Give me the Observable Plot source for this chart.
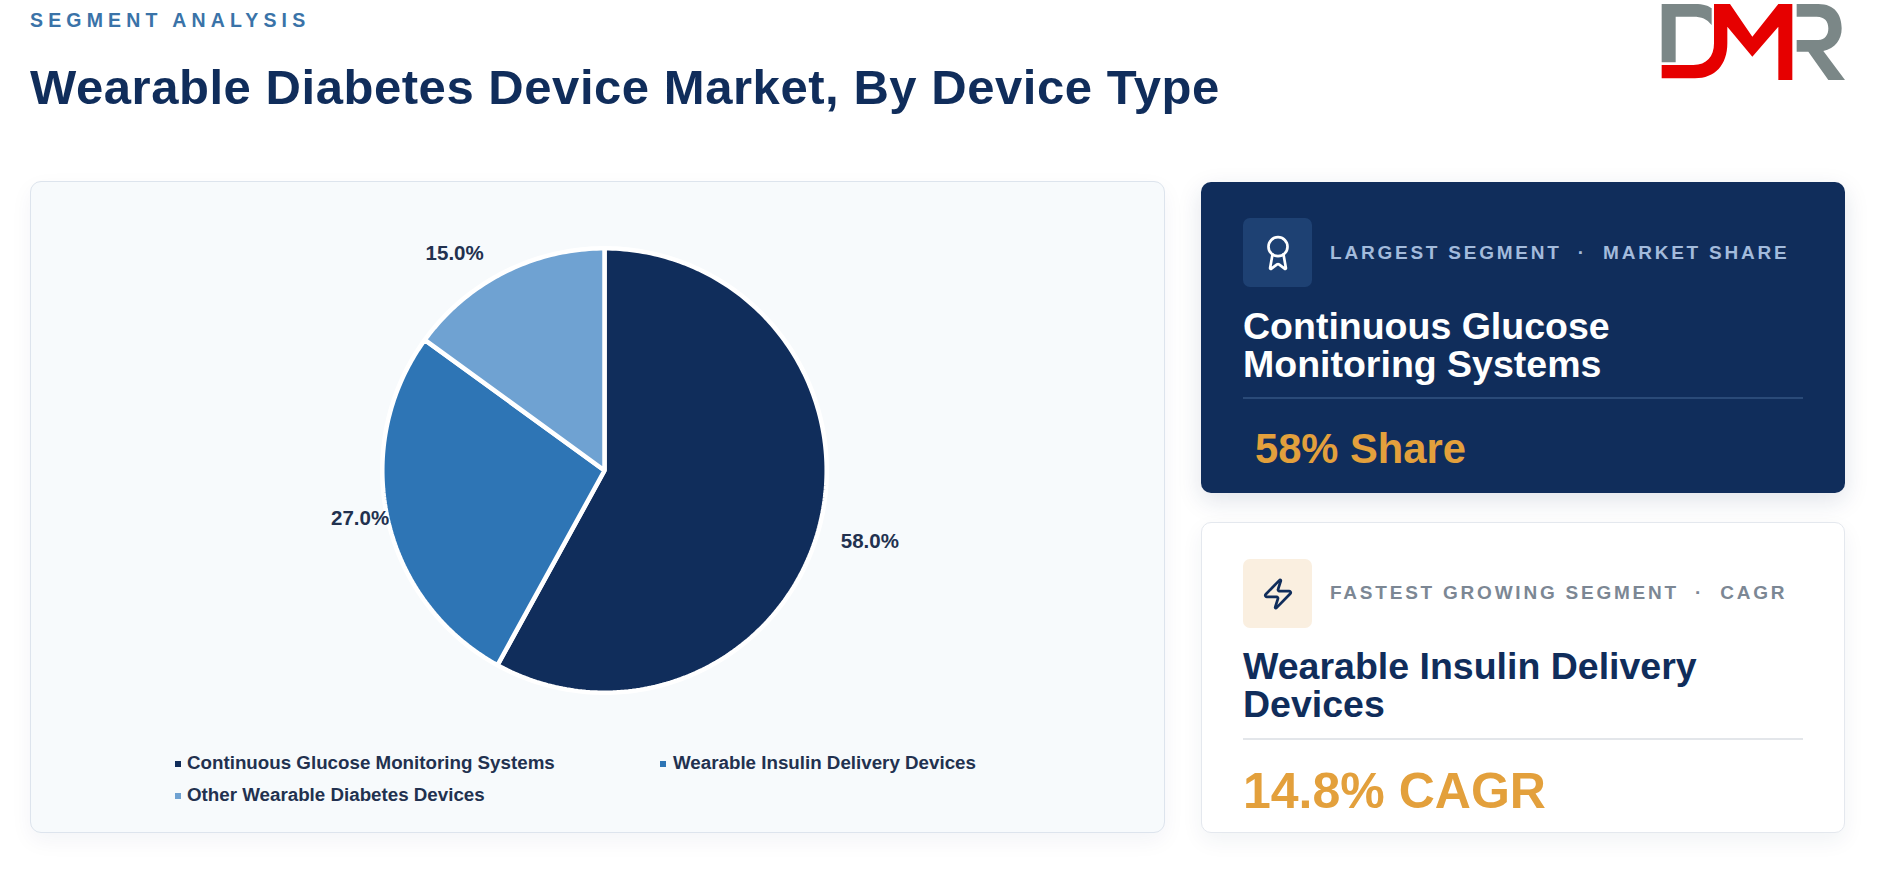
<!DOCTYPE html>
<html lang="en">
<head>
<meta charset="utf-8">
<title>Wearable Diabetes Device Market, By Device Type</title>
<script src="https://cdn.jsdelivr.net/npm/d3@7"></script>
<script src="https://cdn.jsdelivr.net/npm/@observablehq/plot@0.6"></script>
<style>
  html, body { margin: 0; padding: 0; background: #fff; overflow: hidden; }
  body { width: 1883px; height: 870px; position: relative; font-family: "Liberation Sans", Arial, sans-serif; }
  .abs { position: absolute; white-space: nowrap; }
  .box { position: absolute; box-sizing: border-box; }
  #panel { left: 30px; top: 181px; width: 1135px; height: 652px; background: #f7fafc; border: 1.5px solid #dde4ed; border-radius: 11px; box-shadow: 0 8px 22px rgba(20,45,90,.05); }
  #card1 { left: 1201px; top: 182px; width: 644px; height: 311px; background: #102d5b; border-radius: 10px; box-shadow: 0 8px 24px rgba(20,45,90,.13); }
  #card2 { left: 1201px; top: 522px; width: 644px; height: 311px; background: #fff; border: 1.5px solid #e4e8ee; border-radius: 10px; box-shadow: 0 8px 22px rgba(20,45,90,.06); }
  .icon { position: absolute; left: 1243px; width: 69px; height: 69px; border-radius: 7px; display: flex; align-items: center; justify-content: center; }
  .lab { left: 1330px; font-size: 19px; font-weight: 700; letter-spacing: 2.78px; line-height: 24px; white-space: pre; }
  .name { left: 1243px; font-size: 37.5px; font-weight: 700; line-height: 38px; }
  .rule { position: absolute; left: 1243px; width: 560px; height: 1.5px; }
  .sw { position: absolute; width: 6px; height: 6px; }
  .leg { font-size: 18.75px; font-weight: 700; color: #22314f; line-height: 22px; }
  #chart { position: absolute; left: 164px; top: 228px; }
  #chart svg { display: block; background: transparent; }
</style>
</head>
<body>
<div class="abs" style="left:30px;top:8px;font-size:19.5px;font-weight:700;letter-spacing:5.15px;color:#3a73a8;line-height:24px">SEGMENT ANALYSIS</div>
<div class="abs" style="left:30px;top:59px;font-size:49px;font-weight:700;letter-spacing:0.55px;color:#102d5b;line-height:56px" id="title"></div>

<svg class="abs" style="left:1640px;top:0" width="243" height="100" viewBox="0 0 729 300" aria-label="DMR logo">
  <path fill="#7b8787" d="M65 12H165C190 12 205 17 215 25V75C200 56 185 50 160 50H107V187H65Z"/>
  <path fill="#7b8787" d="M470 12H535C585 12 605 45 605 85C605 120 585 145 550 153L615 240H565L505 155H470V120H535C555 120 565 105 565 85C565 65 555 50 530 50H470Z"/>
  <path fill="#e60000" d="M222 12H270L337 110L415 12H457V240H415V80L337 170L262 80V130C262 195 225 235 165 235H65V195H160C200 195 222 170 222 130Z"/>
</svg>

<div class="box" id="panel"></div>
<div id="chart"></div>
<div id="legend"></div>

<div class="box" id="card1"></div>
<div class="icon" style="top:218px;background:#1e4173">
  <svg width="38" height="38" viewBox="0 0 24 24" fill="none" stroke="#fff" stroke-width="1.7" stroke-linecap="round" stroke-linejoin="round"><path d="m15.477 12.89 1.515 8.526a.5.5 0 0 1-.81.47l-3.58-2.687a1 1 0 0 0-1.197 0l-3.586 2.686a.5.5 0 0 1-.81-.469l1.514-8.526"/><circle cx="12" cy="8" r="6"/></svg>
</div>
<div class="abs lab" id="lab1" style="top:241px;color:#a3bbdc"></div>
<div class="abs name" id="name1" style="top:307px;color:#fff"></div>
<div class="rule" style="top:397px;background:#2a4a78"></div>
<div class="abs" id="stat1" style="left:1255px;top:425px;font-size:41.7px;font-weight:700;color:#e3a03c;line-height:48px"></div>

<div class="box" id="card2"></div>
<div class="icon" style="top:559px;background:#faefe0">
  <svg width="34" height="34" viewBox="0 0 24 24" fill="none" stroke="#102d5b" stroke-width="1.9" stroke-linecap="round" stroke-linejoin="round"><path d="M4 14a1 1 0 0 1-.78-1.63l9.9-10.2a.5.5 0 0 1 .86.46l-1.92 6.02A1 1 0 0 0 13 10h7a1 1 0 0 1 .78 1.63l-9.9 10.2a.5.5 0 0 1-.86-.46l1.92-6.02A1 1 0 0 0 11 14z"/></svg>
</div>
<div class="abs lab" id="lab2" style="top:581px;color:#7c8794"></div>
<div class="abs name" id="name2" style="top:647px;color:#102d5b"></div>
<div class="rule" style="top:738px;background:#e3e6ea"></div>
<div class="abs" id="stat2" style="left:1243px;top:762px;font-size:50px;font-weight:700;color:#e3a03c;line-height:58px"></div>

<script>
// ---- Data ----
const chartTitle = "Wearable Diabetes Device Market, By Device Type";
const segments = ["Continuous Glucose Monitoring Systems", "Wearable Insulin Delivery Devices", "Other Wearable Diabetes Devices"];
const shares = [58, 27, 15];
const segmentColors = ["#102d5b", "#2e75b5", "#6fa2d2"];
const cardLabels = ["LARGEST SEGMENT  \u00b7  MARKET SHARE", "FASTEST GROWING SEGMENT  \u00b7  CAGR"];
const cardNames = [["Continuous Glucose", "Monitoring Systems"], ["Wearable Insulin Delivery", "Devices"]];
const cardStats = ["58% Share", "14.8% CAGR"];

// ---- Texts ----
document.getElementById("title").textContent = chartTitle;
[0, 1].forEach(i => {
  document.getElementById("lab" + (i + 1)).textContent = cardLabels[i];
  document.getElementById("name" + (i + 1)).innerHTML = cardNames[i].join("<br>");
  document.getElementById("stat" + (i + 1)).textContent = cardStats[i];
});

// ---- Pie: slice outlines from d3.pie, drawn through Plot's x/y/color scales ----
const R = 202;            // radius in scale units (1 unit = 1.1px)
const labelR = 250;
const pie = d3.pie().sort(null)(shares);
const outline = pie.flatMap((s, i) => {
  const steps = Math.ceil((s.endAngle - s.startAngle) * 180 / Math.PI);
  const pts = [{segment: segments[i], x: 0, y: 0}];
  for (let k = 0; k <= steps; k++) {
    const a = s.startAngle + (s.endAngle - s.startAngle) * k / steps;
    pts.push({segment: segments[i], x: R * Math.sin(a), y: R * Math.cos(a)});
  }
  return pts;
});
const labelNudge = [[-1, 3], [24, -12], [-25, 28]];
const labelMarks = pie.map((s, i) => {
  const a = (s.startAngle + s.endAngle) / 2;
  return Plot.text([{x: labelR * Math.sin(a), y: labelR * Math.cos(a), t: shares[i].toFixed(1) + "%"}], {
    x: "x", y: "y", text: "t", dx: labelNudge[i][0], dy: labelNudge[i][1],
    fontSize: 20.5, fontWeight: 700, fill: "#22314f", textAnchor: "middle", lineAnchor: "middle"
  });
});

const plot = Plot.plot({
  width: 880, height: 484,
  margin: 0,
  style: {background: "transparent", fontFamily: "'Liberation Sans', Arial, sans-serif", overflow: "visible"},
  x: {domain: [-400, 400], range: [0, 880], axis: null},
  y: {domain: [220, -220], range: [0, 484], axis: null},
  color: {domain: segments, range: segmentColors},
  marks: [
    Plot.line(outline, {x: "x", y: "y", z: "segment", fill: "segment", stroke: "#ffffff", strokeWidth: 4.5, curve: "linear-closed", strokeLinejoin: "miter"}),
    ...labelMarks
  ]
});
document.getElementById("chart").appendChild(plot);

// ---- Legend ----
const legendPos = [[175, 187, 752], [660, 673, 752], [175, 187, 784]];
const legend = document.getElementById("legend");
segments.forEach((name, i) => {
  const [sx, tx, ty] = legendPos[i];
  const sw = document.createElement("div");
  sw.className = "sw";
  sw.style.cssText = `left:${sx}px;top:${ty + 9}px;background:${segmentColors[i]}`;
  const t = document.createElement("div");
  t.className = "abs leg";
  t.style.cssText = `left:${tx}px;top:${ty}px`;
  t.textContent = name;
  legend.append(sw, t);
});
</script>
</body>
</html>
